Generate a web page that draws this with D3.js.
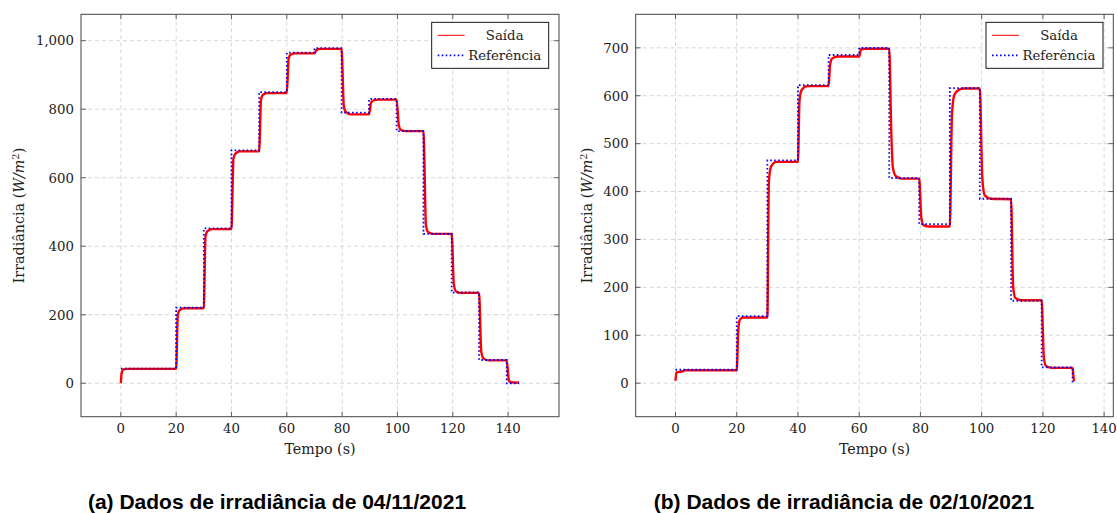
<!DOCTYPE html>
<html>
<head>
<meta charset="utf-8">
<script src="https://cdn.jsdelivr.net/npm/d3@7"></script>
<style>
  body { margin: 0; background: #fff; }
  svg { display: block; }
  .tick-label { font-family: "DejaVu Serif", serif; font-size: 13.3px; fill: #222; }
  .axis-label { font-family: "DejaVu Serif", serif; font-size: 14.3px; fill: #222; }
  .legend-text { font-family: "DejaVu Serif", serif; font-size: 13.3px; fill: #222; }
  .caption { font-family: "Liberation Sans", Arial, sans-serif; font-size: 21px; font-weight: bold; fill: #000; }
</style>
</head>
<body>
<svg id="chart" width="1117" height="513"></svg>
<script>

////////// DATA //////////

// (a) 04/11/2021 - Saída (measured output)
const saidaA_t = [0, 0.3, 0.8, 2, 20, 20.6, 21.3, 23, 30, 30.6, 31.3, 33, 40, 40.7, 41.5, 43,
  50, 50.7, 51.5, 53, 60, 60.7, 61.5, 63, 70, 70.8, 72, 79.8, 80.6, 81.3, 83,
  89.7, 90.5, 91.3, 93, 99.7, 100.5, 101.2, 103, 109.4, 110.3, 111, 113,
  119.6, 120.4, 121.2, 123, 129.5, 130.3, 131.2, 133, 139.5, 140.3, 141, 144];
const saidaA_v = [0, 30, 40, 42, 42, 200, 214, 219, 219, 428, 444, 450, 450, 655, 671, 677,
  677, 830, 843, 847, 847, 950, 960, 963, 963, 973, 976, 976, 810, 792, 785,
  785, 820, 826, 828, 828, 752, 740, 736, 736, 462, 442, 436,
  436, 288, 268, 264, 264, 92, 72, 67, 67, 8, 3, 2];

// (a) 04/11/2021 - Referência (step reference)
const refA_t = [0, 20, 30, 40, 50, 60, 70, 79.8, 89.7, 99.7, 109.4, 119.6, 129.5, 139.5, 144];
const refA_v = [43, 221, 452, 680, 850, 965, 978, 790, 830, 736, 436, 265, 68, 0, 0];

const ticksXA = [0, 20, 40, 60, 80, 100, 120, 140];
const ticksYA = [0, 200, 400, 600, 800, 1000];

// (b) 02/10/2021 - Saída
const saidaB_t = [0, 0.3, 2.5, 3, 20, 20.5, 21, 22, 30, 30.5, 31.2, 33, 40, 40.5, 41.2, 43,
  50, 50.5, 51.2, 53, 60, 60.6, 62, 69.8, 70.5, 71, 72, 74, 79.6, 80.3, 81, 83,
  89.6, 90.3, 91, 92, 94, 99.4, 100.2, 101, 103, 109.6, 110.3, 111, 113,
  119.6, 120.3, 121, 123, 129.7, 130, 130.2];
const saidaB_v = [5, 22, 25, 27, 27, 110, 132, 137, 137, 420, 452, 462, 462, 590, 612, 620,
  620, 665, 678, 682, 682, 697, 698, 698, 520, 450, 432, 427, 427, 345, 330, 327,
  327, 560, 600, 610, 615, 615, 430, 392, 385, 384, 200, 178, 173,
  173, 55, 36, 32, 32, 12, 4];

// (b) 02/10/2021 - Referência
const refB_t = [0, 20, 30, 40, 50, 60, 69.8, 79.6, 89.6, 99.4, 109.6, 119.6, 129.7, 130];
const refB_v = [28, 140, 465, 622, 685, 700, 428, 332, 616, 385, 172, 33, 0, 0];

const ticksXB = [0, 20, 40, 60, 80, 100, 120, 140];
const ticksYB = [0, 100, 200, 300, 400, 500, 600, 700];

const legendLabels = ["Saída", "Referência"];
const captions = ["(a) Dados de irradiância de 04/11/2021", "(b) Dados de irradiância de 02/10/2021"];


////////// SETUP //////////

const svg = d3.select("#chart");

svg.append("rect")
    .attr("width", 1117)
    .attr("height", 513)
    .attr("fill", "#fff");

const panels = [
  {
    box: { left: 81, right: 559, top: 14.3, bottom: 416.7 },
    xDomain: [-14.4, 158.4], yDomain: [-97.5, 1077],
    saida: d3.zip(saidaA_t, saidaA_v), ref: d3.zip(refA_t, refA_v),
    ticksX: ticksXA, ticksY: ticksYA,
    caption: captions[0], captionX: 277, labelX: 24
  },
  {
    box: { left: 635.7, right: 1113.3, top: 14.3, bottom: 416.7 },
    xDomain: [-13, 143], yDomain: [-70, 770],
    saida: d3.zip(saidaB_t, saidaB_v), ref: d3.zip(refB_t, refB_v),
    ticksX: ticksXB, ticksY: ticksYB,
    caption: captions[1], captionX: 844, labelX: 592
  }
];

const fmt = d3.format(",");

panels.forEach(drawPanel);

function drawPanel(p) {
  const b = p.box;

  let x = d3.scaleLinear().domain(p.xDomain).range([b.left, b.right]);
  let y = d3.scaleLinear().domain(p.yDomain).range([b.bottom, b.top]);

  let g = svg.append("g");

  // grid
  g.append("g")
    .selectAll("line")
    .data(p.ticksX)
    .enter()
    .append("line")
    .attr("x1", d => x(d)).attr("x2", d => x(d))
    .attr("y1", b.top).attr("y2", b.bottom)
    .attr("stroke", "#d2d2d2")
    .attr("stroke-width", 0.9)
    .attr("stroke-dasharray", "4,3");

  g.append("g")
    .selectAll("line")
    .data(p.ticksY)
    .enter()
    .append("line")
    .attr("x1", b.left).attr("x2", b.right)
    .attr("y1", d => y(d)).attr("y2", d => y(d))
    .attr("stroke", "#d2d2d2")
    .attr("stroke-width", 0.9)
    .attr("stroke-dasharray", "4,3");

  // tick marks, inside on all four sides
  let tk = g.append("g").attr("stroke", "#555").attr("stroke-width", 0.9);
  p.ticksX.forEach(d => {
    tk.append("line").attr("x1", x(d)).attr("x2", x(d)).attr("y1", b.bottom).attr("y2", b.bottom - 5);
    tk.append("line").attr("x1", x(d)).attr("x2", x(d)).attr("y1", b.top).attr("y2", b.top + 5);
  });
  p.ticksY.forEach(d => {
    tk.append("line").attr("x1", b.left).attr("x2", b.left + 5).attr("y1", y(d)).attr("y2", y(d));
    tk.append("line").attr("x1", b.right).attr("x2", b.right - 5).attr("y1", y(d)).attr("y2", y(d));
  });

  // tick labels
  g.append("g")
    .selectAll("text")
    .data(p.ticksX)
    .enter()
    .append("text")
    .attr("class", "tick-label")
    .attr("x", d => x(d))
    .attr("y", 433)
    .attr("text-anchor", "middle")
    .text(d => d);

  g.append("g")
    .selectAll("text")
    .data(p.ticksY)
    .enter()
    .append("text")
    .attr("class", "tick-label")
    .attr("x", b.left - 7)
    .attr("y", d => y(d))
    .attr("dy", "0.36em")
    .attr("text-anchor", "end")
    .text(d => fmt(d));

  // lines
  let clipId = "clip" + Math.round(b.left);
  svg.append("clipPath").attr("id", clipId)
    .append("rect")
    .attr("x", b.left).attr("y", b.top)
    .attr("width", b.right - b.left).attr("height", b.bottom - b.top);

  let saidaLine = d3.line()
    .x(d => x(d[0]))
    .y(d => y(d[1]))
    .curve(d3.curveMonotoneX);

  let refLine = d3.line()
    .x(d => x(d[0]))
    .y(d => y(d[1]))
    .curve(d3.curveStepAfter);

  g.append("path")
    .datum(p.saida)
    .attr("clip-path", "url(#" + clipId + ")")
    .attr("d", saidaLine)
    .attr("fill", "none")
    .attr("stroke", "#ff0000")
    .attr("stroke-width", 2.4)
    .attr("stroke-linejoin", "round");

  g.append("path")
    .datum(p.ref)
    .attr("clip-path", "url(#" + clipId + ")")
    .attr("d", refLine)
    .attr("fill", "none")
    .attr("stroke", "#0000ff")
    .attr("stroke-width", 1.8)
    .attr("stroke-dasharray", "1.6,2.4");

  // frame
  g.append("rect")
    .attr("x", b.left).attr("y", b.top)
    .attr("width", b.right - b.left).attr("height", b.bottom - b.top)
    .attr("fill", "none")
    .attr("stroke", "#444")
    .attr("stroke-width", 1);

  // legend
  let lg = g.append("g")
    .attr("transform", "translate(" + (b.right - 127.3) + "," + (b.top + 8) + ")");

  lg.append("rect")
    .attr("width", 117).attr("height", 46)
    .attr("fill", "#fff")
    .attr("stroke", "#000")
    .attr("stroke-width", 0.9);

  lg.append("line")
    .attr("x1", 6).attr("x2", 33).attr("y1", 13).attr("y2", 13)
    .attr("stroke", "#ff0000").attr("stroke-width", 1);

  lg.append("line")
    .attr("x1", 6).attr("x2", 33).attr("y1", 33).attr("y2", 33)
    .attr("stroke", "#0000ff").attr("stroke-width", 1.8)
    .attr("stroke-dasharray", "1.6,2.4");

  lg.selectAll(".legend-text")
    .data(legendLabels)
    .enter()
    .append("text")
    .attr("class", "legend-text")
    .attr("x", 73)
    .attr("y", (d, i) => 13 + i * 20)
    .attr("dy", "0.36em")
    .attr("text-anchor", "middle")
    .text(d => d);

  // axis labels
  g.append("text")
    .attr("class", "axis-label")
    .attr("x", (b.left + b.right) / 2)
    .attr("y", 454)
    .attr("text-anchor", "middle")
    .text("Tempo (s)");

  let yl = g.append("text")
    .attr("class", "axis-label")
    .attr("text-anchor", "middle")
    .attr("transform", "translate(" + p.labelX + "," + ((b.top + b.bottom) / 2) + ") rotate(-90)");
  yl.append("tspan").text("Irradiância (");
  yl.append("tspan").attr("font-style", "italic").text("W/m");
  yl.append("tspan").attr("font-size", "10px").attr("dy", "-5").text("2");
  yl.append("tspan").attr("dy", "5").text(")");

  // caption
  g.append("text")
    .attr("class", "caption")
    .attr("x", p.captionX)
    .attr("y", 509)
    .attr("text-anchor", "middle")
    .text(p.caption);
}
</script>
</body>
</html>
